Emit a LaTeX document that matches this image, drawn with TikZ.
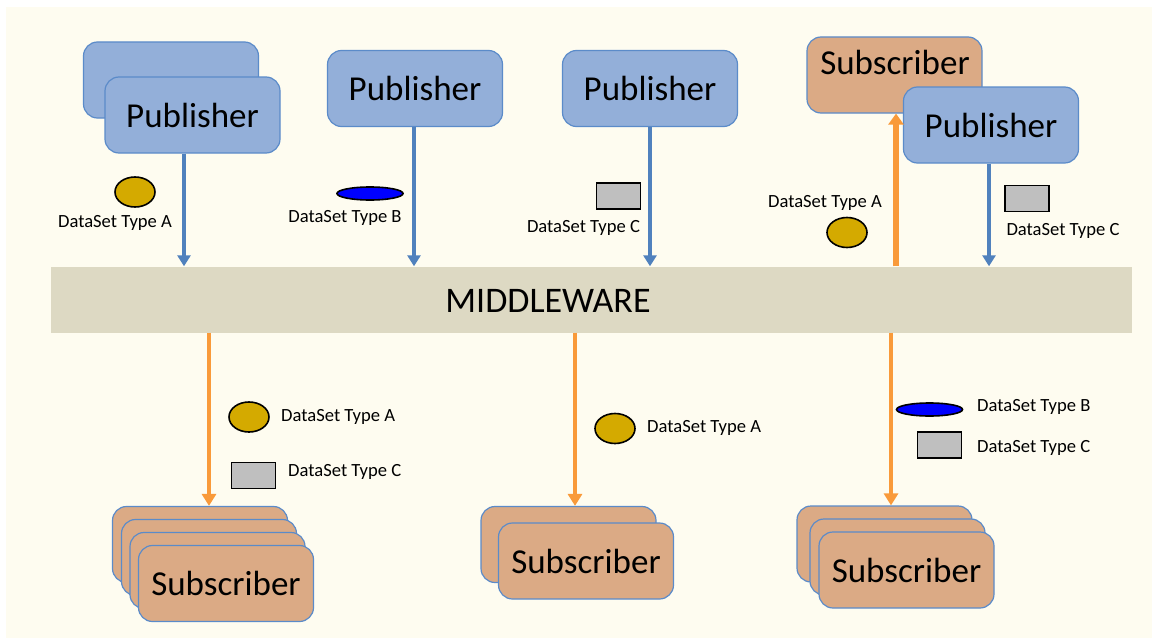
\documentclass[tikz,border=0pt]{standalone}
\usepackage{fontspec}
\setmainfont{Carlito}
\usetikzlibrary{arrows.meta,shapes.geometric}
\definecolor{bgc}{HTML}{FEFCF0}
\definecolor{mwc}{HTML}{DDD9C3}
\definecolor{pubf}{HTML}{93AFD9}
\definecolor{bord}{HTML}{5B8BC9}
\definecolor{subf}{HTML}{DBAA85}
\definecolor{blarr}{HTML}{5081BD}
\definecolor{orarr}{HTML}{F99A3A}
\definecolor{goldc}{HTML}{D4AA00}
\definecolor{blue2}{HTML}{0000FF}
\definecolor{grayr}{HTML}{BFBFBF}
\begin{document}
\begin{tikzpicture}[x=1pt,y=-1pt,
  box/.style={draw=bord, line width=1.2pt, rounded corners=14pt, minimum width=175pt, minimum height=76pt, inner sep=0pt, font=\fontsize{35}{40}\selectfont},
  pub/.style={box, fill=pubf},
  sub/.style={box, fill=subf},
  lbl/.style={font=\fontsize{18.6}{20}\selectfont, inner sep=0pt},
  dsA/.style={ellipse, draw=black, line width=1.6pt, fill=goldc, minimum width=40pt, minimum height=30pt, inner sep=0pt},
  dsB/.style={ellipse, draw=black, line width=1.6pt, fill=blue2, minimum width=66pt, minimum height=13pt, inner sep=0pt},
  dsC/.style={rectangle, draw=black, line width=1.6pt, fill=grayr, minimum width=44pt, minimum height=26pt, inner sep=0pt},
  barr/.style={draw=blarr, line width=3.8pt, -{Triangle[width=13pt,length=11pt]}},
  oarr/.style={draw=orarr, line width=4.5pt, -{Triangle[width=14pt,length=12pt]}},
  ouarr/.style={draw=orarr, line width=6pt, -{Triangle[width=15pt,length=11pt]}}]
\useasboundingbox (0,0) rectangle (1158,642);
\fill[white] (0,0) rectangle (1158,642);
\fill[bgc] (6,7) rectangle (1152,638);

% middleware
\node[fill=mwc, minimum width=1081pt, minimum height=66pt, inner sep=0pt] (mw) at (591.5,299.5) {};
\node[font=\fontsize{36}{40}\selectfont, inner sep=0pt] (mwt) at (548,301) {MIDDLEWARE};

% publishers top
\node[pub] (p1b) at (171,80) {};
\node[pub] (p1) at (192.5,115) {Publisher};
\node[pub] (p2) at (415,88.5) {Publisher};
\node[pub] (p3) at (650,88.5) {Publisher};
\node[sub] (s0) at (894.5,75) {};
\node[font=\fontsize{35}{40}\selectfont, inner sep=0pt] (s0t) at (895,62) {Subscriber};
\node[pub] (p4) at (991,125) {Publisher};

% blue arrows
\draw[barr] ([xshift=-8.5pt]p1.south) -- ([xshift=-8.5pt]p1.south |- mw.north);
\draw[barr] ([xshift=-1pt]p2.south) -- ([xshift=-1pt]p2.south |- mw.north);
\draw[barr] (p3.south) -- (p3.south |- mw.north);
\draw[barr] ([xshift=-2pt]p4.south) -- ([xshift=-2pt]p4.south |- mw.north);
% orange up
\draw[ouarr] ([xshift=1.5pt]s0.south |- mw.north) -- ([xshift=1.5pt]s0.south);

% datasets top
\node[dsA] (eA1) at (135,192) {};
\node[lbl] (lA1) at (115,223) {DataSet Type A};
\node[dsB] (eB1) at (370,193.5) {};
\node[lbl] (lB1) at (345,218) {DataSet Type B};
\node[dsC] (rC1) at (618.5,196) {};
\node[lbl] (lC1) at (583.5,227.5) {DataSet Type C};
\node[lbl] (lA2) at (825,203) {DataSet Type A};
\node[dsA] (eA2) at (847,232.5) {};
\node[dsC] (rC2) at (1027,198.5) {};
\node[lbl] (lC2) at (1063,231) {DataSet Type C};

% bottom subscribers left stack
\node[sub] (sl1) at (200,544.5) {};
\node[sub] (sl2) at (209,557.5) {};
\node[sub] (sl3) at (217.5,570.5) {};
\node[sub] (sl4) at (226,583.5) {Subscriber};
% middle stack
\node[sub] (sm1) at (568.5,544.5) {};
\node[sub] (sm2) at (586,561) {Subscriber};
% right stack
\node[sub] (sr1) at (884.5,544) {};
\node[sub] (sr2) at (897.5,557) {};
\node[sub] (sr3) at (906.5,570) {Subscriber};

% orange down arrows
\draw[oarr] ([xshift=9pt]sl1.north |- mw.south) -- ([xshift=9pt]sl1.north);
\draw[oarr] ([xshift=6.5pt]sm1.north |- mw.south) -- ([xshift=6.5pt]sm1.north);
\draw[oarr] ([xshift=6.5pt]sr1.north |- mw.south) -- ([xshift=6.5pt]sr1.north);

% datasets bottom
\node[dsA] (eA3) at (249,417) {};
\node[lbl, anchor=west] (lA3) at (281,417) {DataSet Type A};
\node[dsC] (rC3) at (253.5,475.5) {};
\node[lbl, anchor=west] (lC3) at (288,472) {DataSet Type C};
\node[dsA] (eA4) at (615,428.5) {};
\node[lbl, anchor=west] (lA4) at (647,428) {DataSet Type A};
\node[dsB] (eB2) at (929.5,409.5) {};
\node[lbl, anchor=west] (lB2) at (977,407) {DataSet Type B};
\node[dsC] (rC4) at (939.5,445) {};
\node[lbl, anchor=west] (lC4) at (977,448) {DataSet Type C};
\end{tikzpicture}
\end{document}
